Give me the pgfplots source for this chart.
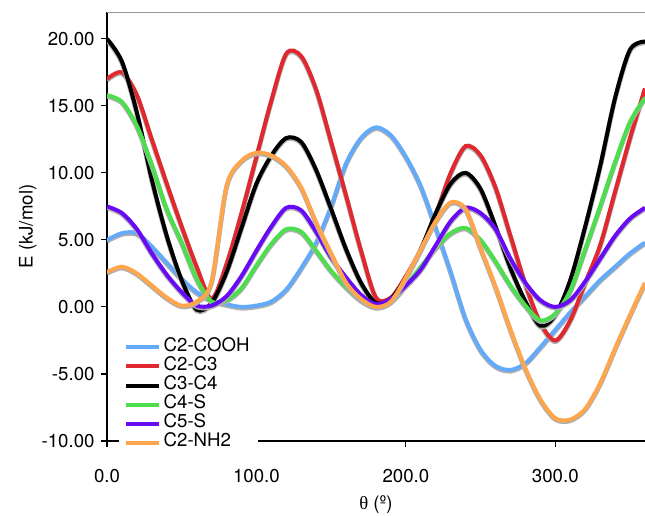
\documentclass[border=0pt]{standalone}
\usepackage{fontspec}
\setmainfont{TeX Gyre Heros}
\newfontfamily\greekserif{Liberation Serif}
\usepackage{pgfplots}
\usepackage{pgfplotstable}
\pgfplotsset{compat=1.18}

\definecolor{cblue}{RGB}{100,170,250}
\definecolor{cred}{RGB}{224,40,46}
\definecolor{cgreen}{RGB}{76,222,76}
\definecolor{cpurple}{RGB}{104,10,245}
\definecolor{corange}{RGB}{255,166,77}
\definecolor{cshadow}{RGB}{175,175,175}

% theta vs E (kJ/mol), every 10 deg
\pgfplotstableread{
th   cooh  ctwo  cthree cfour cfive nhtwo
0    5.0   17.0  20.0   15.8  7.5   2.6
10   5.5   17.5  18.3   15.3  7.0   3.0
20   5.5   15.8  14.5   13.5  5.8   2.5
30   4.5   12.5  9.5    10.6  4.0   1.6
40   3.3   9.2   5.3    7.3   2.4   0.7
50   2.1   6.0   2.0    4.8   1.1   0.1
60   1.1   3.0   -0.2   2.1   0.1   0.4
70   0.5   0.6   0.3    0.4   0.1   1.9
80   0.2   3.2   2.6    0.5   0.8   9.0
90   0.0   7.0   5.9    1.4   2.3   10.9
100  0.1   11.2  9.2    3.1   4.2   11.5
110  0.4   15.4  11.3   4.7   6.0   11.3
120  1.3   18.9  12.6   5.8   7.4   10.5
130  2.9   18.7  12.3   5.6   7.2   8.9
140  4.8   16.2  10.2   4.2   5.6   6.3
150  7.5   12.3  7.3    2.7   3.7   4.0
160  10.7  8.3   4.3    1.5   2.2   1.8
170  12.6  4.2   1.8    0.5   0.9   0.6
180  13.4  0.7   0.3    0.0   0.2   0.0
190  12.8  0.7   0.6    0.4   0.6   0.4
200  11.2  2.3   2.2    1.6   1.6   2.2
210  9.0   4.3   4.3    3.0   2.8   4.3
220  5.9   6.9   7.0    4.4   4.6   6.4
230  2.6   10.0  9.2    5.5   6.4   7.8
240  -0.9  12.0  10.0   5.9   7.4   7.3
250  -3.2  11.3  8.8    5.0   7.0   4.4
260  -4.4  8.9   6.0    3.4   5.8   1.5
270  -4.7  5.3   2.9    1.6   3.6   -1.7
280  -4.2  1.7   0.4    0.1   1.8   -4.6
290  -3.0  -1.2  -1.4   -1.0  0.5   -6.9
300  -1.7  -2.5  -0.6   -0.5  0.0   -8.3
310  -0.4  -1.0  2.0    1.2   0.5   -8.4
320  0.8   1.8   6.0    4.3   1.9   -7.6
330  2.0   4.6   10.5   7.5   3.6   -5.7
340  3.0   8.6   15.6   10.8  5.3   -3.1
350  4.0   12.6  19.2   13.8  6.6   -0.6
360  4.8   16.3  19.8   15.6  7.4   1.8
}\rotdata

\begin{document}
\fontsize{14}{16}\selectfont
\begin{tikzpicture}
\begin{axis}[
  scale only axis,
  width=403.5pt, height=321.75pt,
  xmin=0, xmax=360, ymin=-10, ymax=22,
  axis lines*=left,
  axis line style={line width=1pt},
  xtick={0,100,200,300}, ytick={-10,-5,0,5,10,15,20},
  tick align=outside, major tick length=4.5pt,
  tick style={line width=0.8pt, black},
  /pgf/number format/assume math mode=true,
  xticklabel={\pgfmathprintnumber[fixed,fixed zerofill,precision=1]{\tick}},
  yticklabel={\pgfmathprintnumber[fixed,fixed zerofill,precision=2]{\tick}},
  xticklabel style={yshift=-12pt},
  ticklabel style={font=\fontsize{14}{16}\selectfont},
  xlabel={{\greekserif θ} (º)},
  ylabel={E (kJ/mol)},
  label style={font=\fontsize{14}{16}\selectfont},
  xlabel style={at={(axis description cs:0.5,-0.149)}, anchor=center},
  ylabel style={at={(axis description cs:-0.147,0.5)}, anchor=center},
  legend cell align=left,
  legend style={at={(axis cs:7.85,-2.09)}, anchor=north west, fill=white, draw=none,
    inner xsep=4pt, inner ysep=2pt, row sep=0pt,
    font=\fontsize{14}{16}\selectfont,
    nodes={inner xsep=2pt, inner ysep=0pt, text height=10pt, text depth=4.3pt}},
  legend image code/.code={\draw[line width=3pt] (0pt,0pt) -- (24.5pt,0pt);},
  shadow/.style={cshadow, line width=3.6pt, smooth, yshift=-0.9pt, forget plot},
  curve/.style={line width=3pt, smooth},
]
\addplot[shadow] table[x=th, y=cooh] {\rotdata};
\addplot[curve, cblue] table[x=th, y=cooh] {\rotdata};
\addlegendentry{C2-COOH}
\addplot[shadow] table[x=th, y=ctwo] {\rotdata};
\addplot[curve, cred] table[x=th, y=ctwo] {\rotdata};
\addlegendentry{C2-C3}
\addplot[shadow] table[x=th, y=cthree] {\rotdata};
\addplot[curve, black] table[x=th, y=cthree] {\rotdata};
\addlegendentry{C3-C4}
\addplot[shadow] table[x=th, y=cfour] {\rotdata};
\addplot[curve, cgreen] table[x=th, y=cfour] {\rotdata};
\addlegendentry{C4-S}
\addplot[shadow] table[x=th, y=cfive] {\rotdata};
\addplot[curve, cpurple] table[x=th, y=cfive] {\rotdata};
\addlegendentry{C5-S}
\addplot[shadow] table[x=th, y=nhtwo] {\rotdata};
\addplot[curve, corange] table[x=th, y=nhtwo] {\rotdata};
\addlegendentry{C2-NH2}
\draw[gray!80, line width=1pt] (rel axis cs:0,1) -- (rel axis cs:1,1);
\end{axis}
\pgfresetboundingbox
\path (current axis.south west) ++(-80.25pt,-55.5pt) coordinate (bbsw);
\path (current axis.north east) ++(0pt,9pt) coordinate (bbne);
\useasboundingbox (bbsw) rectangle (bbne);
\end{tikzpicture}
\end{document}
